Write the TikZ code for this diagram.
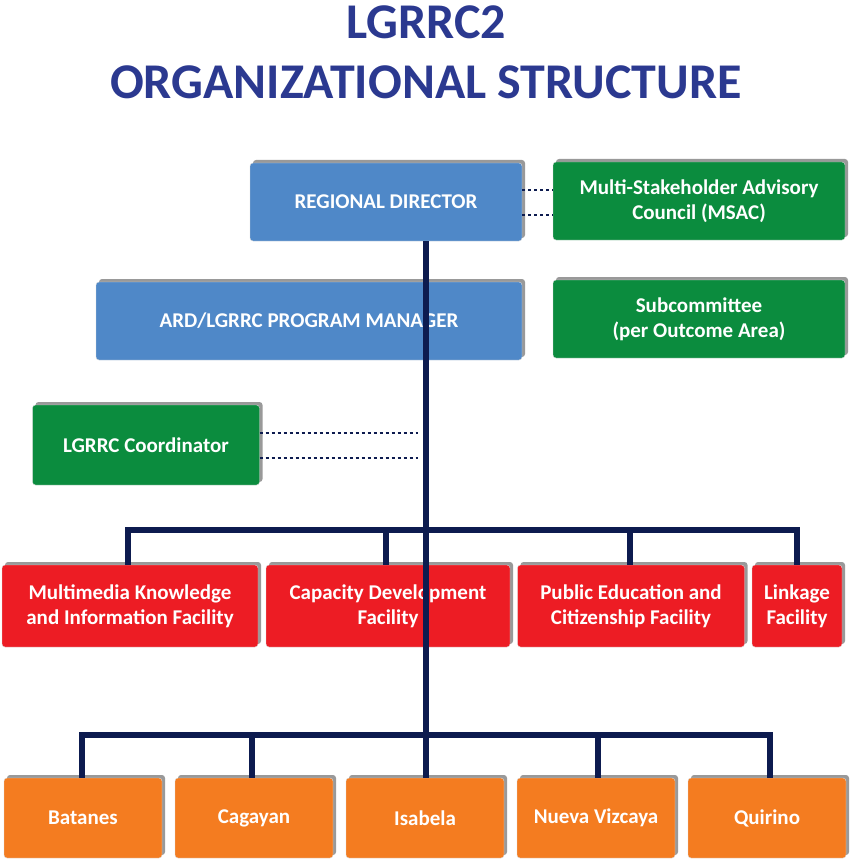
\documentclass[tikz,border=0pt]{standalone}
\usepackage{fontspec}
\setmainfont{Carlito}
\usetikzlibrary{shadows}
\definecolor{titleblue}{HTML}{2B3990}
\definecolor{boxblue}{HTML}{4F88C8}
\definecolor{boxgreen}{HTML}{0B8C3E}
\definecolor{boxred}{HTML}{ED1C24}
\definecolor{boxorange}{HTML}{F47C20}
\definecolor{linenavy}{HTML}{0D1B4F}
\tikzset {
  unit box/.style = {
    draw = white!70!gray,
    rounded corners = 3pt,
    text = white,
    align = center,
    font = \bfseries\fontsize{21}{25}\selectfont,
    drop shadow = {shadow xshift = 3pt, shadow yshift = 3pt, fill = black!80},
    inner sep = 0
  },
  % blue management box
  head/.style = {unit box, fill = boxblue, minimum height = 78pt},
  % green advisory box
  advisory/.style = {unit box, fill = boxgreen, minimum height = 78pt},
  % red facility box
  facility/.style = {unit box, fill = boxred, minimum height = 82pt},
  % orange province box
  province/.style = {unit box, fill = boxorange, minimum height = 80pt, minimum width = 158pt},
  link/.style = {draw = linenavy, line width = 6pt},
  advice/.style = {draw = linenavy, line width = 1.5pt, dashed}
}
\begin{document}
\begin{tikzpicture}[x=1pt, y=-1pt]
  \useasboundingbox (0,0) rectangle (852,861);
  \node[text = titleblue, font = \bfseries\fontsize{50}{60}\selectfont, align = center] (title) at (426,52) {LGRRC2\\ORGANIZATIONAL STRUCTURE};

  \node[head, minimum width = 272pt] (director) at (386,202) {REGIONAL DIRECTOR};
  \node[advisory, minimum width = 292pt] (msac) at (699,201) {Multi-Stakeholder Advisory\\Council (MSAC)};
  \node[head, minimum width = 426pt] (manager) at (309,321) {ARD/LGRRC PROGRAM MANAGER};
  \node[advisory, minimum width = 292pt] (subcom) at (699,319) {Subcommittee\\(per Outcome Area)};
  \node[advisory, minimum width = 227pt, minimum height = 80pt] (coord) at (146,445) {LGRRC Coordinator};

  \node[facility, minimum width = 256pt] (media) at (130,606) {Multimedia Knowledge\\and Information Facility};
  \node[facility, minimum width = 244pt] (capdev) at (388,606) {Capacity Development\\Facility};
  \node[facility, minimum width = 227pt] (pubed) at (631,606) {Public Education and\\Citizenship Facility};
  \node[facility, minimum width = 90pt] (linkage) at (797,606) {Linkage\\Facility};

  \node[province] (batanes) at (83,818) {Batanes};
  \node[province] (cagayan) at (254,818) {Cagayan};
  \node[province] (isabela) at (425,818) {Isabela};
  \node[province] (vizcaya) at (596,818) {Nueva Vizcaya};
  \node[province] (quirino) at (767,818) {Quirino};

  \coordinate (bus1) at (426,530);
  \coordinate (bus2) at (426,735);
  \coordinate (coordend) at (418,445);

  \begin{scope}[on background layer/.style={}]
    \draw[link] (director.south -| 426,0) -- (manager.south -| 426,0) -- (bus1) -- (bus2);
    \draw[link] (128,530) -- (797,530);
    \foreach \x/\n in {128/media, 386/capdev, 630/pubed, 797/linkage}
      \draw[link] (\x,527) -- (\n.north -| \x,0);
    \draw[link] (82,735) -- (770,735);
    \foreach \x/\n in {82/batanes, 252/cagayan, 426/isabela, 598/vizcaya, 770/quirino}
      \draw[link] (\x,732) -- (\n.north -| \x,0);
  \end{scope}

  \draw[advice] ([yshift=-13pt]director.east) -- ([yshift=-14pt]msac.west);
  \draw[advice] ([yshift=12pt]director.east) -- ([yshift=11pt]msac.west);
  \draw[advice] ([yshift=-13pt]coord.east) -- ([yshift=-13pt]coordend);
  \draw[advice] ([yshift=12pt]coord.east) -- ([yshift=12pt]coordend);
\end{tikzpicture}
\end{document}
